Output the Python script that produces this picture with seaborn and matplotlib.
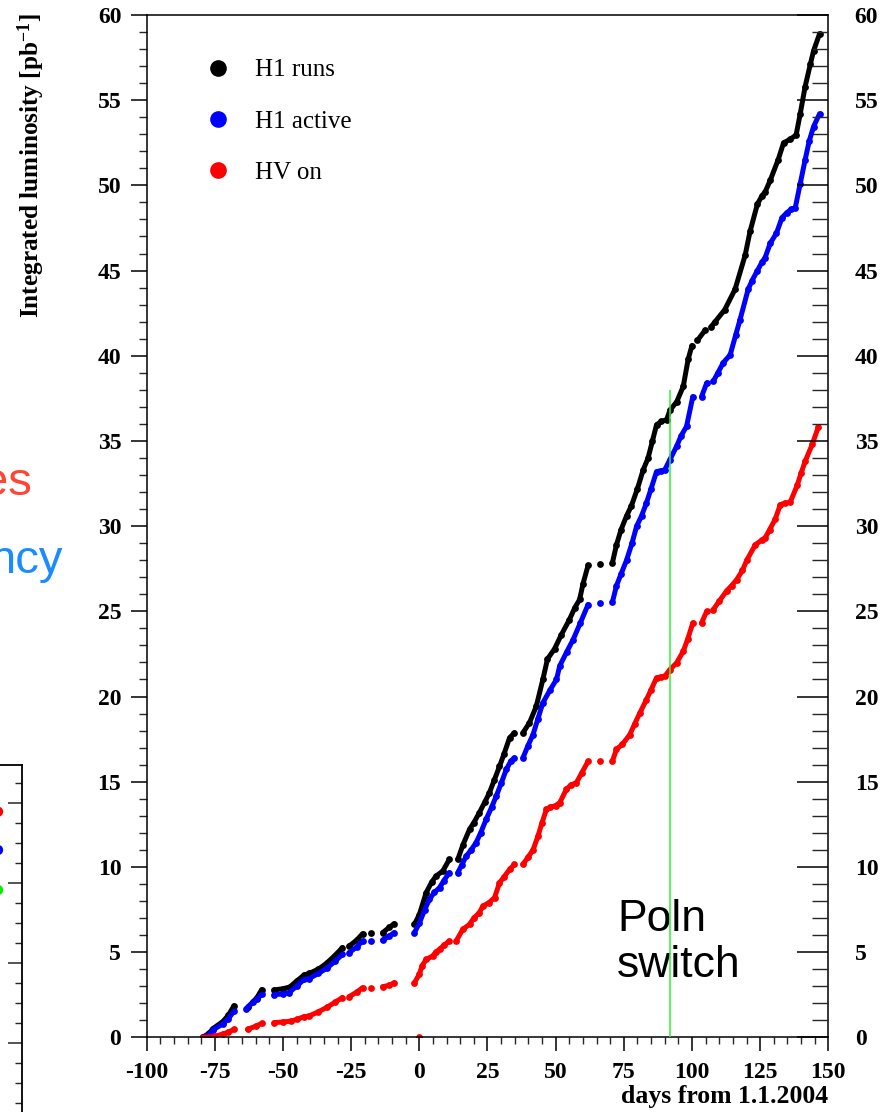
import numpy as np
import pandas as pd
import matplotlib
matplotlib.use("Agg")
import matplotlib.pyplot as plt
from matplotlib.ticker import MultipleLocator, NullFormatter
from matplotlib.lines import Line2D
import seaborn as sns

# ---- integrated luminosity (pb^-1) versus days from 1.1.2004 ----
# each inner list is one uninterrupted running period
runs_day = [[-79.5, -77, -75.8, -72.1, -70, -68],
            [-62.7, -59.6, -57.8],
            [-53.3, -50, -47.5, -45, -42.3, -40.4, -37, -34, -31, -28.2],
            [-25.7, -23, -20.8],
            [-17.8],
            [-13.5, -11, -9.2],
            [-1.8, 0, 2.5, 4.5, 6.1, 8.6, 11],
            [14.1, 16, 18.4, 20, 22, 24, 25.7, 27.5, 29.4, 31, 33.1, 34.9],
            [38, 40.4, 42.9, 45.3, 47, 49.6, 52, 55, 57, 58.8, 60, 61.9],
            [66.4],
            [70.8, 72.3, 74, 76, 77.8, 80, 82.1, 83.9, 85.5, 87, 88.8, 90.7, 91.9, 94.4, 96.8, 98.6, 100],
            [102, 104.8],
            [107, 108.5, 112, 115.8, 119.5, 121.3, 124, 125.7, 126.8, 128.7, 131.6, 133.6, 136, 138.2,
             139.7, 141.5, 143.4, 144.6, 146.8]]
runs_lumi = [[0.0, 0.25, 0.5, 0.92, 1.3, 1.85],
             [1.8, 2.32, 2.8],
             [2.78, 2.85, 2.95, 3.3, 3.65, 3.75, 4.0, 4.35, 4.8, 5.26],
             [5.36, 5.7, 6.08],
             [6.14],
             [6.14, 6.45, 6.67],
             [6.63, 7.2, 8.49, 9.1, 9.46, 9.76, 10.44],
             [10.44, 11.3, 12.2, 12.6, 13.18, 13.8, 14.35, 15.1, 15.9, 16.6, 17.58, 17.87],
             [17.87, 18.46, 19.43, 21.0, 22.2, 22.8, 23.6, 24.5, 25.2, 25.7, 26.6, 27.7],
             [27.8],
             [27.84, 28.9, 29.8, 30.6, 31.2, 32.2, 33.3, 34.0, 35.0, 35.95, 36.15, 36.25, 36.8, 37.3, 38.2, 39.8, 40.6],
             [40.9, 41.5],
             [41.7, 42.0, 42.7, 43.9, 45.9, 47.3, 48.9, 49.4, 49.6, 50.3, 51.5, 52.5, 52.7, 52.96,
              54.2, 55.8, 57.1, 57.9, 58.9]]

active_day = [[-79.5, -77, -75.8, -72.1, -70, -68],
              [-63.5, -61, -59.5, -57.8],
              [-53.3, -50, -47.8, -45, -42.3, -40.4, -37, -34, -31, -28.2],
              [-25.7, -23, -20.8],
              [-17.8],
              [-13.5, -11, -9.2],
              [-1.8, 0, 2, 3.7, 5.5, 7.4, 9, 11],
              [14.1, 15.5, 17.2, 19, 20.8, 22.5, 24.5, 26.5, 28.2, 30, 31.9, 33.5, 34.9],
              [38, 39.8, 41.7, 43.5, 45.3, 48, 50.3, 51.5, 54, 56.4, 59, 61.9],
              [66.4],
              [70.8, 72.3, 74, 76, 78, 79.7, 81.5, 83.3, 85, 87, 88.5, 90, 91.9, 94.4, 96, 98, 100.3],
              [103.5, 105.4],
              [107.8, 109.5, 111.5, 114, 116, 117.6, 120.6, 122, 124, 125.7, 126.8, 128.7, 131, 133,
               134.8, 136.5, 137.9, 139.7, 141.5, 143, 144.6, 146.8]]
active_lumi = [[0.0, 0.15, 0.43, 0.78, 1.1, 1.54],
               [1.68, 2.05, 2.25, 2.52],
               [2.5, 2.55, 2.62, 3.0, 3.4, 3.45, 3.75, 4.05, 4.45, 4.87],
               [4.97, 5.3, 5.65],
               [5.65],
               [5.7, 5.95, 6.14],
               [6.14, 6.7, 7.5, 8.1, 8.5, 8.78, 9.2, 9.66],
               [9.66, 10.1, 10.63, 11.0, 11.42, 12.0, 12.79, 13.5, 14.15, 14.9, 15.72, 16.2, 16.4],
               [16.4, 17.1, 17.77, 18.7, 19.63, 20.4, 21.0, 21.8, 22.6, 23.34, 24.3, 25.4],
               [25.5],
               [25.53, 26.5, 27.2, 28.0, 29.0, 30.0, 30.6, 31.36, 32.2, 33.2, 33.25, 33.3, 33.9, 34.7, 35.3, 35.85, 37.6],
               [37.6, 38.4],
               [38.5, 39.0, 39.6, 40.05, 41.2, 42.1, 43.9, 44.4, 45.0, 45.5, 45.75, 46.6, 47.2, 48.1,
                48.4, 48.6, 48.7, 50.1, 51.5, 52.6, 53.45, 54.2]]

hv_day = [[-79.5, -75, -72, -70, -68],
          [-63, -60, -57.8],
          [-53.3, -50, -47, -45, -42.3, -40.4, -37, -34, -31, -28.2],
          [-25.7, -23, -20.8],
          [-17.8],
          [-13.5, -11, -9.2],
          [0],
          [-1.8, 0, 1, 2.5, 4.9, 6, 7.4, 9, 11],
          [13.5, 15.9, 18.4, 20, 22, 23.3, 25.5, 27.6, 29.4, 31, 33.1, 34.9],
          [38, 40, 41.7, 43.5, 45, 46.6, 48, 50, 51.5, 53.9, 55.5, 57.6, 59.5, 61.9],
          [66.4],
          [70.8, 72.3, 74.5, 77.2, 79, 80.9, 83.3, 85, 87, 88.5, 90, 91.9, 94.4, 96.8, 98.5, 100.3],
          [103.5, 105.4],
          [107.8, 110, 112.7, 114.5, 116.4, 118.5, 120.1, 123.2, 125.7, 126.8, 128.5, 130.5, 132.4,
           134, 136, 138.6, 140, 141.5, 144.1, 146.3]]
hv_lumi = [[0.0, 0.05, 0.2, 0.3, 0.47],
           [0.47, 0.65, 0.82],
           [0.86, 0.9, 0.95, 1.05, 1.21, 1.25, 1.5, 1.75, 2.05, 2.33],
           [2.39, 2.65, 2.91],
           [2.91],
           [2.97, 3.05, 3.2],
           [0.0],
           [3.2, 3.7, 4.2, 4.57, 4.77, 5.0, 5.16, 5.4, 5.65],
           [5.65, 6.33, 6.63, 7.0, 7.31, 7.7, 7.9, 8.2, 9.07, 9.4, 9.85, 10.15],
           [10.15, 10.6, 11.0, 11.8, 12.6, 13.37, 13.5, 13.6, 13.77, 14.55, 14.8, 14.94, 15.5, 16.2],
           [16.2],
           [16.2, 16.9, 17.2, 17.77, 18.4, 19.04, 19.82, 20.4, 21.1, 21.15, 21.19, 21.58, 21.98, 22.66, 23.4, 24.32],
           [24.32, 25.0],
           [25.1, 25.6, 26.2, 26.5, 26.86, 27.4, 28.0, 28.9, 29.2, 29.3, 29.8, 30.4, 31.26,
            31.35, 31.4, 32.4, 33.1, 33.8, 34.8, 35.8]]

series_names = ["H1 runs", "H1 active", "HV on"]
series_colors = ["#000000", "#0000ff", "#ff0000"]

switch_day = 92        # polarisation switch
switch_top = 38

# markers of the neighbouring panel
side_colors = ["#ff0000", "#0000ff", "#00ee00"]
side_levels = [3.565, 1.65, -0.35]

rows = []
for name, days, lumis in [("H1 runs", runs_day, runs_lumi),
                          ("H1 active", active_day, active_lumi),
                          ("HV on", hv_day, hv_lumi)]:
    for k, (d, l) in enumerate(zip(days, lumis)):
        rows.append(pd.DataFrame({"day": d, "lumi": l, "seg": k, "series": name}))
df = pd.concat(rows, ignore_index=True)
palette = dict(zip(series_names, series_colors))

sns.set_theme(style="white")
plt.rcParams["font.family"] = ["Liberation Serif", "DejaVu Serif"]
plt.rcParams["axes.unicode_minus"] = False
plt.rcParams["text.color"] = "black"
plt.rcParams["mathtext.fontset"] = "custom"
plt.rcParams["mathtext.rm"] = "Liberation Serif:bold"
plt.rcParams["mathtext.bf"] = "Liberation Serif:bold"
plt.rcParams["mathtext.default"] = "bf"

W, H = 894, 1112
fig = plt.figure(figsize=(W / 100, H / 100), dpi=100)
fig.patch.set_facecolor("white")

x0, x1, yb, yt = 146.7, 828.3, 1037.3, 15.0
ax = fig.add_axes([x0 / W, 1 - yb / H, (x1 - x0) / W, (yb - yt) / H])

for name in series_names:
    sub = df[df["series"] == name]
    sns.lineplot(data=sub, x="day", y="lumi", units="seg", estimator=None, sort=False,
                 color=palette[name], lw=3.6, solid_capstyle="round", ax=ax, legend=False)
    sns.scatterplot(data=sub, x="day", y="lumi", color=palette[name], s=24,
                    linewidth=0, ax=ax, legend=False)

ax.vlines(switch_day, 0, switch_top, color="#33ee33", lw=1.1, zorder=5)
ax.text(72.5, 5.55, "Poln\nswitch", family=["Liberation Sans"], fontsize=32,
        ha="left", va="center", linespacing=1.14, color="black")

ax.set_xlim(-100, 150)
ax.set_ylim(0, 60)
for side in ["left", "right", "top", "bottom"]:
    ax.spines[side].set_visible(True)
    ax.spines[side].set_color("black")
    ax.spines[side].set_linewidth(1.1)

ax.xaxis.set_major_locator(MultipleLocator(25))
ax.xaxis.set_minor_locator(MultipleLocator(5))
ax.yaxis.set_major_locator(MultipleLocator(5))
ax.yaxis.set_minor_locator(MultipleLocator(1))
ax.tick_params(axis="x", which="major", direction="out", length=10, width=1.1,
               bottom=True, top=False, labelsize=17, pad=8, colors="black")
ax.tick_params(axis="x", which="minor", direction="out", length=5, width=1.0,
               bottom=True, top=False)
ax.tick_params(axis="y", which="major", direction="out", length=11.3, width=1.1,
               left=True, right=False, labelsize=17, pad=7, colors="black")
ax.tick_params(axis="y", which="minor", direction="out", length=5.8, width=1.0,
               left=True, right=False)
for lab in ax.get_xticklabels() + ax.get_yticklabels():
    lab.set_fontweight("bold")

axr = ax.twinx()
axr.set_ylim(0, 60)
axr.yaxis.set_major_locator(MultipleLocator(5))
axr.yaxis.set_minor_locator(MultipleLocator(1))
axr.tick_params(axis="y", which="major", direction="in", length=22, width=1.1,
                labelsize=17, pad=19, colors="black")
axr.tick_params(axis="y", which="minor", direction="in", length=11.3, width=1.0)
for lab in axr.get_yticklabels():
    lab.set_fontweight("bold")
for side in axr.spines:
    axr.spines[side].set_visible(False)

ax.set_xlabel("days from 1.1.2004", fontsize=18.5, fontweight="bold", loc="right",
              color="black")
ax.xaxis.set_label_coords(1.0, -(1085 - yb) / (yb - yt))
ax.xaxis.label.set_va("top")

ax.set_ylabel("Integrated luminosity [pb$^{-1}$]", fontsize=18.2, fontweight="bold",
              loc="top", color="black")
ax.yaxis.set_label_coords((31 - x0) / (x1 - x0), 1 + 2 / (yb - yt))
ax.yaxis.label.set_va("center")

handles = [Line2D([], [], ls="none", marker="o", markersize=12, markeredgewidth=0,
                  color=c) for c in series_colors]
leg = ax.legend(handles, series_names, loc="upper left",
                bbox_to_anchor=(205 / W, 1 - 59 / H), bbox_transform=fig.transFigure,
                frameon=False, fontsize=18, handlelength=1.0, handletextpad=1.0,
                labelspacing=1.15, borderpad=0, borderaxespad=0)
for t in leg.get_texts():
    t.set_color("black")

# neighbouring panel, cut at the left edge
sx1 = 22.0
stop = 765.0
sax = fig.add_axes([(sx1 - 290) / W, -0.1, 290 / W, (1 - stop / H) + 0.1])
sax.set_xlim(0, 290)
sax.set_ylim(5.9 - (H + 0.1 * H - stop) / 20.0, 5.9)
sax.scatter([266] * 3, side_levels, c=side_colors, s=55, linewidths=0, clip_on=False)
sax.set_facecolor("none")
for side in ["left", "bottom"]:
    sax.spines[side].set_visible(False)
for side in ["right", "top"]:
    sax.spines[side].set_visible(True)
    sax.spines[side].set_color("black")
    sax.spines[side].set_linewidth(1.3)
sax.set_xticks([])
sax.yaxis.set_major_locator(MultipleLocator(4))
sax.yaxis.set_minor_locator(MultipleLocator(1))
sax.yaxis.set_major_formatter(NullFormatter())
sax.tick_params(axis="y", which="major", direction="in", length=10, width=1.1,
                left=False, right=True, labelleft=False, labelright=False)
sax.tick_params(axis="y", which="minor", direction="in", length=5, width=1.0,
                left=False, right=True)

# headings of the neighbouring panel, cut at the left edge
fig.text(32 / W, 1 - 495 / H, "es", family=["Liberation Sans"], fontsize=34,
         color="#ff4433", ha="right", va="baseline")
fig.text(63 / W, 1 - 573 / H, "ncy", family=["Liberation Sans"], fontsize=34,
         color="#1a8cff", ha="right", va="baseline")

fig.savefig("out.png", dpi=100, facecolor="white")
